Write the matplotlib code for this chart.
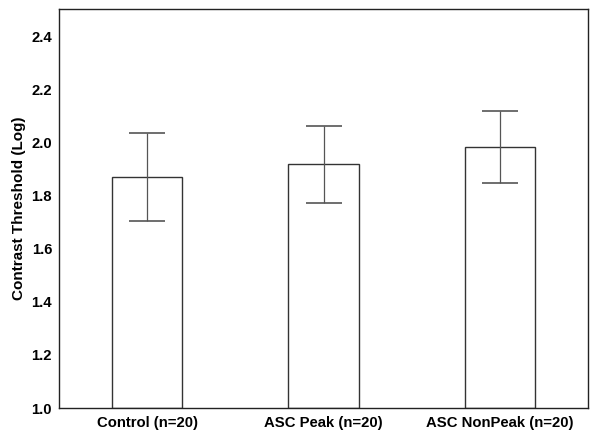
import matplotlib
matplotlib.use("Agg")
import matplotlib.pyplot as plt

categories = ["Control (n=20)", "ASC Peak (n=20)", "ASC NonPeak (n=20)"]
means = [1.87, 1.92, 1.984]
errors = [0.166, 0.145, 0.137]
yticks = [1.0, 1.2, 1.4, 1.6, 1.8, 2.0, 2.2, 2.4]

plt.rcParams['font.family'] = ['Liberation Sans', 'DejaVu Sans']
fig = plt.figure(figsize=(6, 4.42), dpi=100)
ax = fig.add_axes([59/600, 1-408/442, (588-59)/600, (408-9)/442])

x = list(range(len(categories)))
ax.bar(x, [m - 1.0 for m in means], bottom=1.0, width=0.4, color='white',
       edgecolor='#333333', linewidth=1.0, zorder=2)
ax.errorbar(x, means, yerr=errors, fmt='none', ecolor='#555555',
            elinewidth=0.9, capsize=13, capthick=1.2, zorder=3)

ax.set_xlim(-0.5, 2.5)
ax.set_ylim(1.0, 2.505)
ax.set_yticks(yticks)
ax.set_yticklabels([f"{v:.1f}" for v in yticks], fontsize=10.7, fontweight='bold')
ax.set_xticks(x)
ax.set_xticklabels(categories, fontsize=10.7, fontweight='bold')
ax.tick_params(axis='y', length=0, pad=5)
ax.tick_params(axis='x', length=0, pad=6)
ax.set_ylabel("Contrast Threshold (Log)", fontsize=11, fontweight='bold', labelpad=4)
for s in ax.spines.values():
    s.set_linewidth(1.0)
    s.set_color('#222222')

fig.savefig("out.png", dpi=100)
